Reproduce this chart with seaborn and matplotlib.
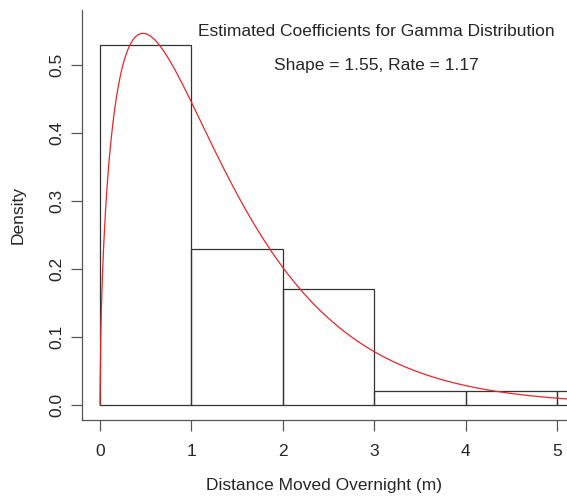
import math
import matplotlib
matplotlib.use('Agg')
import matplotlib.pyplot as plt
import numpy as np
import seaborn as sns

# histogram (density scale), bins of width 1 m
BIN_EDGES = [0, 1, 2, 3, 4, 5, 6]
DENSITY = [0.53, 0.23, 0.17, 0.02, 0.02, 0.02]

# fitted gamma coefficients printed on the chart
SHAPE = 1.55
RATE = 1.17

X_TICKS = [0, 1, 2, 3, 4, 5]
Y_TICKS = [0.0, 0.1, 0.2, 0.3, 0.4, 0.5]

sns.set_style('ticks')
plt.rcParams['font.family'] = ['Liberation Sans', 'DejaVu Sans']

FS = 12.5

mids = [(a + b) / 2 for a, b in zip(BIN_EDGES[:-1], BIN_EDGES[1:])]

# gamma density curve from the shown coefficients (like R's curve(dgamma(...)))
xs = np.linspace(0.0001, 6, 600)
ys = RATE ** SHAPE * xs ** (SHAPE - 1) * np.exp(-RATE * xs) / math.gamma(SHAPE)

fig = plt.figure(figsize=(5.67, 4.97), dpi=100)
ax = fig.add_axes([0.1446, 0.155, 0.8554, 0.825])

sns.histplot(x=mids, weights=DENSITY, bins=BIN_EDGES, stat='count', fill=False,
             color='#333333', linewidth=0.9, element='bars', ax=ax)
sns.lineplot(x=np.concatenate([[0], xs]), y=np.concatenate([[0], ys]),
             color='#e8262a', linewidth=0.9, ax=ax)

ax.set_xlim(-0.197, 5.11)
ax.set_ylim(-0.022, 0.581)
ax.set_xticks(X_TICKS)
ax.set_xticklabels([str(t) for t in X_TICKS])
ax.set_yticks(Y_TICKS)
ax.set_yticklabels([f'{t:.1f}' for t in Y_TICKS], rotation=90, va='center')
ax.tick_params(direction='out', length=8, width=0.9, color='#555555',
               labelsize=FS)
ax.tick_params(axis='x', pad=9)
ax.tick_params(axis='y', pad=5)

for side in ('top', 'right'):
    ax.spines[side].set_visible(False)
for side in ('left', 'bottom'):
    ax.spines[side].set_color('#555555')
    ax.spines[side].set_linewidth(0.9)

ax.set_xlabel('Distance Moved Overnight (m)', fontsize=FS, labelpad=14)
ax.set_ylabel('Density', fontsize=FS, labelpad=17)

ax.text(3.02, 0.55, 'Estimated Coefficients for Gamma Distribution',
        ha='center', va='center', fontsize=FS)
ax.text(3.02, 0.5, 'Shape = 1.55, Rate = 1.17',
        ha='center', va='center', fontsize=FS)

fig.savefig('out.png', dpi=100)
